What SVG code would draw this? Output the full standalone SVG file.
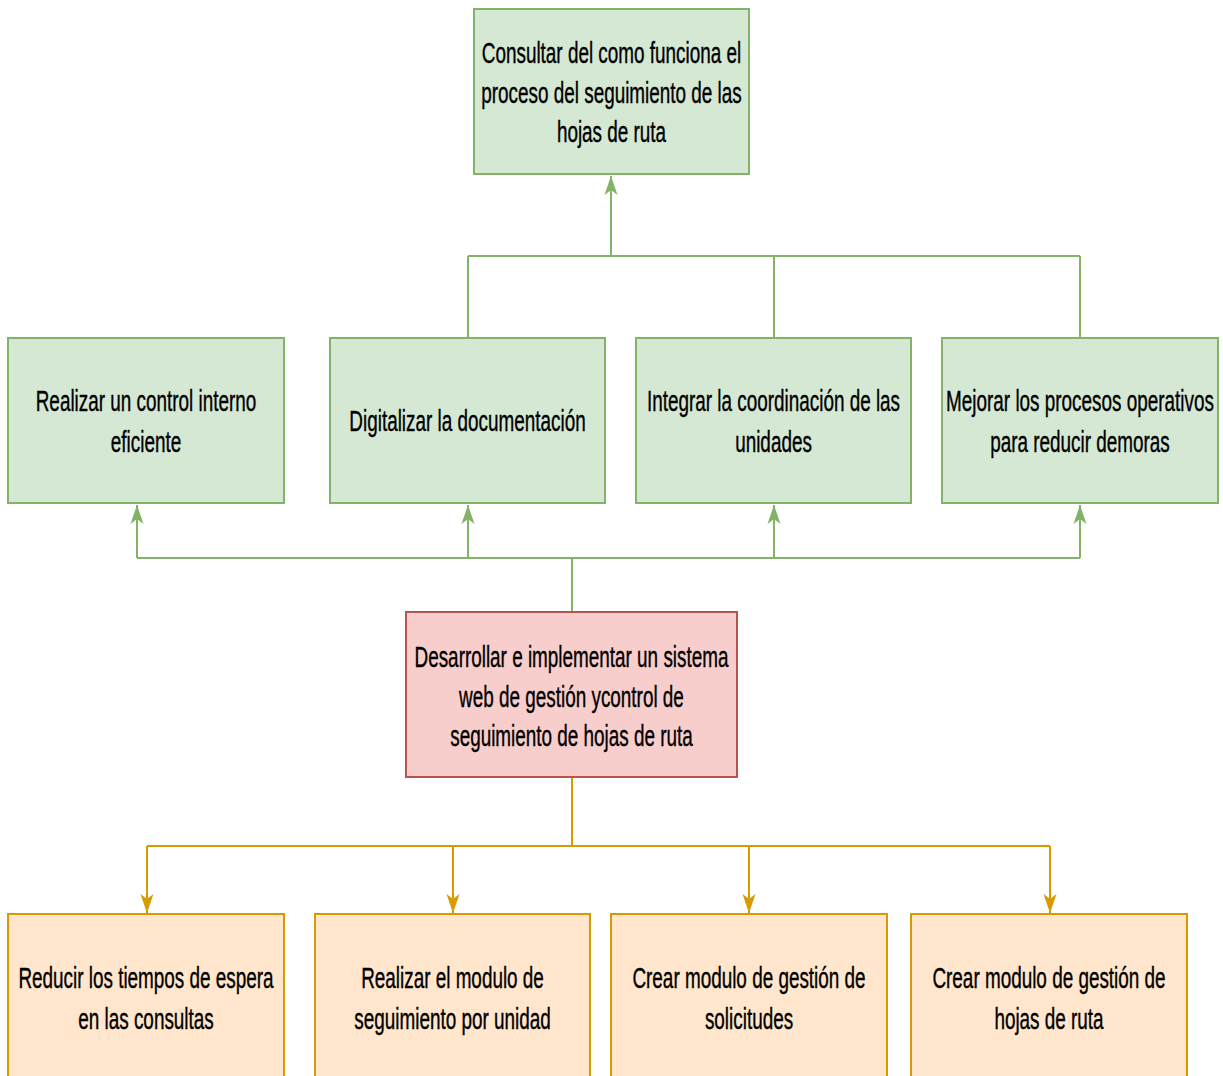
<svg xmlns="http://www.w3.org/2000/svg" width="1223" height="1076" viewBox="0 0 1223 1076">
  <style>
    .g { fill: #d5e8d4; stroke: #82b366; stroke-width: 2; }
    .r { fill: #f8cecc; stroke: #b85450; stroke-width: 2; }
    .o { fill: #ffe6cc; stroke: #d79b00; stroke-width: 2; }
    .lbl { font-family: "Liberation Sans", Arial, sans-serif; font-size: 30px; fill: #000; stroke: #000; stroke-width: 0.4; text-anchor: middle; }
    .eg { fill: none; stroke: #82b366; stroke-width: 2; }
    .eo { fill: none; stroke: #d79b00; stroke-width: 2; }
  </style>
  <defs>
    <marker id="ag" markerUnits="userSpaceOnUse" markerWidth="20" markerHeight="14" viewBox="0 0 20 14" refX="19" refY="7" orient="auto">
      <path d="M0,0.5 L19,7 L0,13.5 L5,7 Z" fill="#82b366"/>
    </marker>
    <marker id="ao" markerUnits="userSpaceOnUse" markerWidth="20" markerHeight="14" viewBox="0 0 20 14" refX="19" refY="7" orient="auto">
      <path d="M0,0.5 L19,7 L0,13.5 L5,7 Z" fill="#d79b00"/>
    </marker>
  </defs>
  <rect width="1223" height="1076" fill="#ffffff"/>

  <!-- connectors -->
  <g id="connectors">
    <path class="eg" d="M468 338 V256 M774 338 V256 M1080 338 V256 M468 256 H1080"/>
    <path class="eg" d="M611 256 V176" marker-end="url(#ag)"/>
    <path class="eg" d="M572 612 V558 M137 558 H1080"/>
    <path class="eg" d="M137 558 V505" marker-end="url(#ag)"/>
    <path class="eg" d="M468 558 V505" marker-end="url(#ag)"/>
    <path class="eg" d="M774 558 V505" marker-end="url(#ag)"/>
    <path class="eg" d="M1080 558 V505" marker-end="url(#ag)"/>
    <path class="eo" d="M572 777 V846 M147 846 H1050"/>
    <path class="eo" d="M147 846 V913" marker-end="url(#ao)"/>
    <path class="eo" d="M453 846 V913" marker-end="url(#ao)"/>
    <path class="eo" d="M749 846 V913" marker-end="url(#ao)"/>
    <path class="eo" d="M1050 846 V913" marker-end="url(#ao)"/>
  </g>

  <!-- purpose -->
  <g id="n-consultar">
    <rect class="g" x="474" y="9" width="275" height="165"/>
    <text class="lbl" transform="translate(611.5 0) scale(0.63 1)"><tspan x="0" y="63">Consultar del como funciona el</tspan><tspan x="0" y="103">proceso del seguimiento de las</tspan><tspan x="0" y="142">hojas de ruta</tspan></text>
  </g>

  <!-- ends -->
  <g id="n-control">
    <rect class="g" x="8" y="338" width="276" height="165"/>
    <text class="lbl" transform="translate(146 0) scale(0.63 1)"><tspan x="0" y="411">Realizar un control interno</tspan><tspan x="0" y="452">eficiente</tspan></text>
  </g>
  <g id="n-digitalizar">
    <rect class="g" x="330" y="338" width="275" height="165"/>
    <text class="lbl" transform="translate(467.5 0) scale(0.63 1)"><tspan x="0" y="431">Digitalizar la documentación</tspan></text>
  </g>
  <g id="n-integrar">
    <rect class="g" x="636" y="338" width="275" height="165"/>
    <text class="lbl" transform="translate(773.5 0) scale(0.63 1)"><tspan x="0" y="411">Integrar la coordinación de las</tspan><tspan x="0" y="452">unidades</tspan></text>
  </g>
  <g id="n-mejorar">
    <rect class="g" x="942" y="338" width="276" height="165"/>
    <text class="lbl" transform="translate(1080 0) scale(0.63 1)"><tspan x="0" y="411">Mejorar los procesos operativos</tspan><tspan x="0" y="452">para reducir demoras</tspan></text>
  </g>

  <!-- main objective -->
  <g id="n-sistema">
    <rect class="r" x="406" y="612" width="331" height="165"/>
    <text class="lbl" transform="translate(571.5 0) scale(0.63 1)"><tspan x="0" y="667">Desarrollar e implementar un sistema</tspan><tspan x="0" y="707">web de gestión ycontrol de</tspan><tspan x="0" y="746">seguimiento de hojas de ruta</tspan></text>
  </g>

  <!-- means -->
  <g id="n-reducir">
    <rect class="o" x="8" y="914" width="276" height="180"/>
    <text class="lbl" transform="translate(146 0) scale(0.63 1)"><tspan x="0" y="988">Reducir los tiempos de espera</tspan><tspan x="0" y="1029">en las consultas</tspan></text>
  </g>
  <g id="n-seguimiento">
    <rect class="o" x="315" y="914" width="275" height="180"/>
    <text class="lbl" transform="translate(452.5 0) scale(0.63 1)"><tspan x="0" y="988">Realizar el modulo de</tspan><tspan x="0" y="1029">seguimiento por unidad</tspan></text>
  </g>
  <g id="n-solicitudes">
    <rect class="o" x="611" y="914" width="276" height="180"/>
    <text class="lbl" transform="translate(749 0) scale(0.63 1)"><tspan x="0" y="988">Crear modulo de gestión de</tspan><tspan x="0" y="1029">solicitudes</tspan></text>
  </g>
  <g id="n-hojas">
    <rect class="o" x="911" y="914" width="276" height="180"/>
    <text class="lbl" transform="translate(1049 0) scale(0.63 1)"><tspan x="0" y="988">Crear modulo de gestión de</tspan><tspan x="0" y="1029">hojas de ruta</tspan></text>
  </g>
</svg>
